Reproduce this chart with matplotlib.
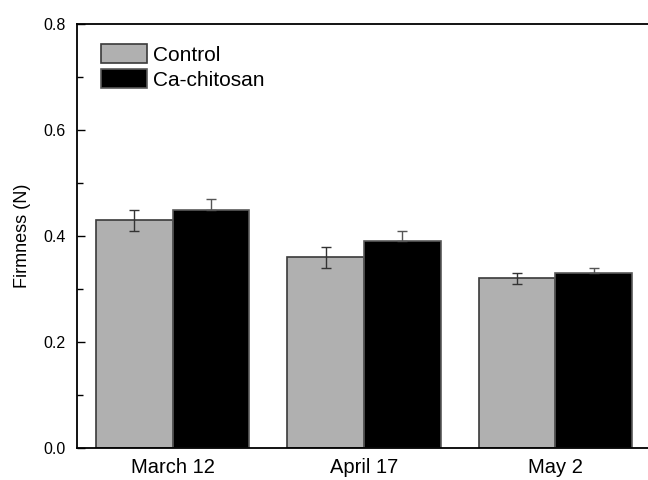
import numpy as np
import matplotlib
matplotlib.use('Agg')
import matplotlib.pyplot as plt
from matplotlib import rcParams
from matplotlib.ticker import MultipleLocator

rcParams.update({'font.family': 'sans-serif', 'font.sans-serif': ['Liberation Sans', 'DejaVu Sans'], 'font.size': 10})

# data
dates = ['March 12', 'April 17', 'May 2']
control = [0.43, 0.36, 0.32]
control_err = [0.02, 0.02, 0.01]
chitosan = [0.45, 0.39, 0.33]
chitosan_err = [0.02, 0.02, 0.01]

x = np.arange(1, len(dates) + 1)
w = 0.4

fig = plt.figure(figsize=(6.48, 4.8), dpi=100)
ax = fig.add_axes([77/648, 32/480, 574/648, 424/480])

ax.bar(x - w/2, control, w, color='#b0b0b0', edgecolor='#3a3a3a', linewidth=1.2, label='Control')
ax.bar(x + w/2, chitosan, w, color='black', edgecolor='#5a5a5a', linewidth=1.2, label='Ca-chitosan')
ax.errorbar(x - w/2, control, yerr=control_err, fmt='none', ecolor='#333333', elinewidth=1, capsize=3.5, capthick=1)
# lower half of these is hidden by the black bars, only the upper part shows
ax.errorbar(x + w/2, chitosan, yerr=[np.zeros(len(x)), chitosan_err], fmt='none', ecolor='#555555',
            elinewidth=1, capsize=3.5, capthick=1)

ax.set_xlim(0.5, 3.5)
ax.set_ylim(0, 0.8)
ax.set_xticks(x)
ax.set_xticklabels(dates, fontsize=14.5)
ax.tick_params(axis='x', length=0, pad=7.5)
ax.yaxis.set_major_locator(MultipleLocator(0.2))
ax.yaxis.set_minor_locator(MultipleLocator(0.1))
ax.yaxis.set_major_formatter(plt.FormatStrFormatter('%.1f'))
ax.tick_params(axis='y', which='major', direction='in', length=6, width=1, labelsize=11.5, pad=8)
ax.tick_params(axis='y', which='minor', direction='in', length=4, width=1)
ax.set_ylabel('Firmness (N)', fontsize=13, labelpad=9)

for s in ['left', 'top', 'bottom']:
    ax.spines[s].set_linewidth(1.3)
ax.spines['right'].set_visible(False)

ax.legend(loc='upper left', bbox_to_anchor=(0.042, 0.953), frameon=False, fontsize=15,
          handlelength=2.2, handleheight=1.06, labelspacing=0.2, handletextpad=0.3,
          borderpad=0, borderaxespad=0)

fig.savefig('out.png', dpi=100)
